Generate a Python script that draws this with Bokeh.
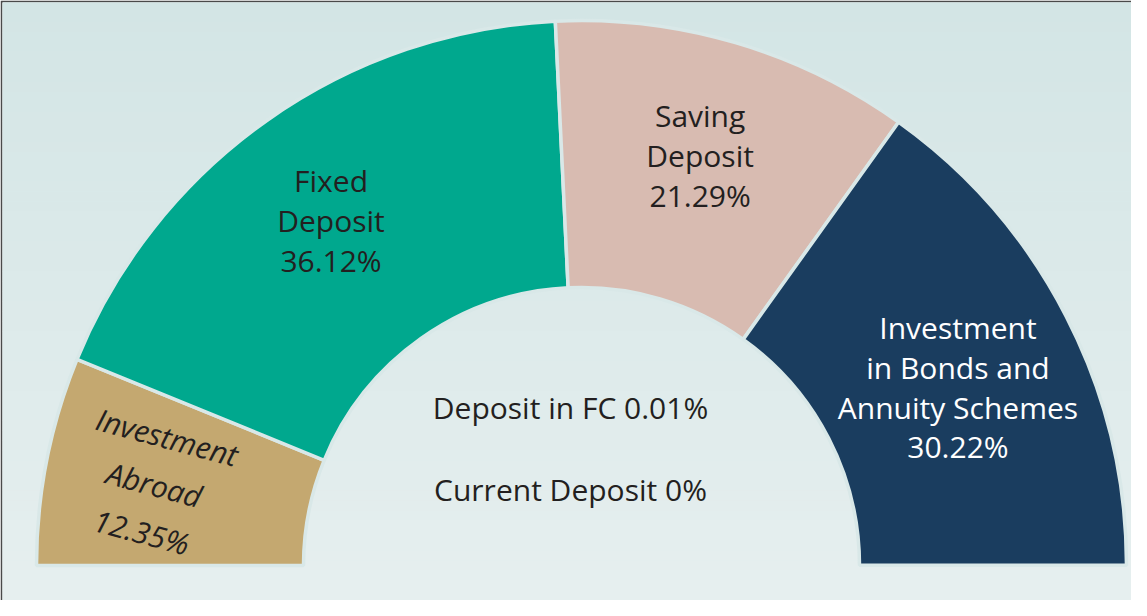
import math
from bokeh.plotting import figure
from bokeh.models import Range1d, ColumnDataSource, CDSView, IndexFilter
from bokeh.core.properties import value
from bokeh.embed import file_html
from bokeh.resources import INLINE

# ---- data ----
categories = ["Investment Abroad", "Fixed Deposit", "Saving Deposit",
              "Investment in Bonds and Annuity Schemes"]
label_lines = ["Investment\nAbroad", "Fixed\nDeposit", "Saving\nDeposit",
               "Investment\nin Bonds and\nAnnuity Schemes"]
shares = [12.35, 36.12, 21.29, 30.22]
small_categories = ["Deposit in FC", "Current Deposit"]
small_shares = [0.01, 0.0]

# ---- styles ----
colors = ["#c4a870", "#00a88e", "#d8bbb1", "#1a3d5f"]
text_colors = ["#231f20", "#231f20", "#231f20", "#ffffff"]
label_rot_deg = [-15, 0, 0, 0]
label_style = ["italic", "normal", "normal", "normal"]
label_dx = [-15, -8, 0, 3]    # pixel nudges of the labels
label_dy = [0, 2, 7, -14]
bg_top = (0xd3, 0xe5, 0xe5)
bg_bot = (0xe6, 0xef, 0xef)
FONT = "Open Sans"
FS = "30px"

W, H = 1131, 600
BL, BT = 2, 2
frame_w, frame_h = W - BL, H - BT
cx_px, cy_px = 589 - 8 - BL, 573 - 8 - BT  # center of the arc in frame pixels
R_IN, R_OUT = 278, 545

p = figure(width=W, height=H, output_backend="svg", toolbar_location=None,
           x_range=Range1d(-cx_px, frame_w - cx_px),
           y_range=Range1d(-(frame_h - cy_px), cy_px),
           min_border_left=BL, min_border_top=BT, min_border_right=0, min_border_bottom=0)
p.axis.visible = False
p.grid.visible = False
p.outline_line_color = None
p.border_fill_color = "#4a4a4a"
p.background_fill_color = "#dde9e9"

# background vertical gradient made of thin bands
nb = 60
y0, y1 = p.y_range.start, p.y_range.end
band_src = dict(left=[], right=[], bottom=[], top=[], color=[])
for i in range(nb):
    t = i / (nb - 1)
    c = tuple(int(round(bg_top[k] + (bg_bot[k] - bg_top[k]) * t)) for k in range(3))
    top = y1 - (y1 - y0) * i / nb
    bot = y1 - (y1 - y0) * (i + 1) / nb
    band_src["left"].append(p.x_range.start)
    band_src["right"].append(p.x_range.end)
    band_src["top"].append(top + 0.5)
    band_src["bottom"].append(bot)
    band_src["color"].append("#%02x%02x%02x" % c)
p.quad(left="left", right="right", bottom="bottom", top="top", color="color",
       source=ColumnDataSource(band_src), line_color=None)

# wedges, clockwise from the left
total = 100.0
starts, ends, mids = [], [], []
a = math.pi
for s in shares:
    b = a - s / total * math.pi
    starts.append(b)
    ends.append(a)
    mids.append((a + b) / 2)
    a = b

src = ColumnDataSource(dict(start=starts, end=ends, color=colors))
p.annular_wedge(x=0, y=0, inner_radius=R_IN, outer_radius=R_OUT,
                start_angle="start", end_angle="end", color="color",
                line_color="#d9e8e8", line_width=3.5, source=src)

# segment labels
R_LAB = 420
lx = [R_LAB * math.cos(m) + d for m, d in zip(mids, label_dx)]
ly = [R_LAB * math.sin(m) + d for m, d in zip(mids, label_dy)]
texts = [f"{l}\n{v:g}%" for l, v in zip(label_lines, shares)]
lab_src = ColumnDataSource(dict(x=lx, y=ly, text=texts, color=text_colors,
                                style=label_style,
                                angle=[math.radians(d) for d in label_rot_deg]))
common = dict(x="x", y="y", text="text", angle="angle", text_color="color",
              source=lab_src, text_font_style="style", text_align="center",
              text_baseline="middle", text_font=value(FONT), text_font_size=FS)
# rotated label (first) has a little more leading
p.text(view=CDSView(filter=IndexFilter([0])), text_line_height=1.2, **common)
p.text(view=CDSView(filter=IndexFilter([1, 2, 3])), text_line_height=0.97, **common)

# small categories in the middle
st = [f"{c} {v:g}%" for c, v in zip(small_categories, small_shares)]
p.text(x=[-11, -11], y=[158, 76], text=st, text_color="#231f20",
       text_align="center", text_baseline="middle", text_font=value(FONT),
       text_font_size=FS)

open("out.html", "w").write(file_html(p, INLINE))
